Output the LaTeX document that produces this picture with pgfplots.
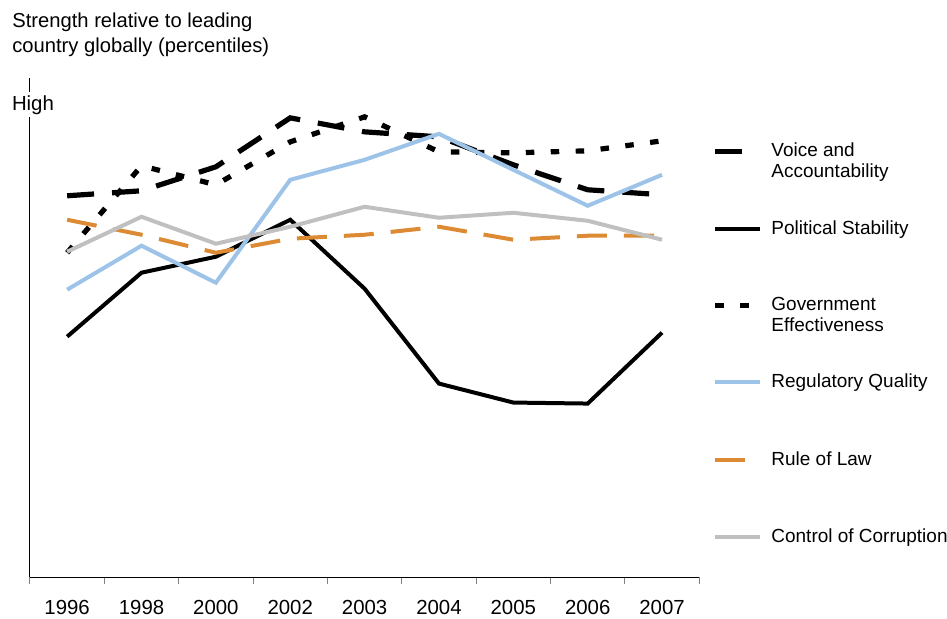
\documentclass[border=0pt]{standalone}
\usepackage{fontspec}
\setmainfont{Liberation Sans}
\usepackage{pgfplots}
\pgfplotsset{compat=1.18}
\definecolor{regblue}{HTML}{9DC3E8}
\definecolor{lawor}{HTML}{DC8A33}
\definecolor{corrgray}{HTML}{C0C0C0}
\begin{document}
\fontsize{9.5}{11.5}\selectfont
\begin{tikzpicture}
\useasboundingbox (-15pt,-20.5pt) rectangle (459pt,289pt);
\begin{axis}[
  at={(0,0)}, anchor=south west,
  scale only axis, width=335pt, height=250pt,
  xmin=-0.5, xmax=8.5, ymin=0, ymax=500,
  axis x line*=bottom, axis y line*=left,
  axis line style={line width=0.5pt},
  xtick={0,...,8},
  xticklabels={1996,1998,2000,2002,2003,2004,2005,2006,2007},
  major tick length=0pt,
  minor xtick={-0.5,0.5,...,8.5},
  minor tick length=3.5pt, tick align=outside,
  minor tick style={line width=0.5pt},
  ytick=\empty,
  xticklabel style={font=\fontsize{10.2}{12}\selectfont, yshift=-8pt},
  legend style={at={(rel axis cs:1.0195,0.876)}, anchor=north west,
    draw=none, fill=none, inner sep=0pt, row sep=16.8pt, column sep=2.8pt,
    nodes={inner sep=1.5pt, align=left}, font=\fontsize{9.5}{10.5}\selectfont},
  legend cell align=left,
  legend image code/.code={\draw[#1] (0pt,5.25pt) -- (22.5pt,5.25pt);},
]
\addplot[black, line width=2.6pt, dash pattern=on 13.5pt off 9pt] coordinates
  {(0,382) (1,387) (2,411) (3,460) (4,446) (5,441) (6,413) (7,388) (8,383)};
\addlegendentry{Voice and\\Accountability}
\addplot[black, line width=2pt] coordinates
  {(0,241) (1,305) (2,321) (3,358) (4,289) (5,194) (6,175) (7,174) (8,245)};
\addlegendentry{Political Stability\\\strut}
\addplot[black, line width=2.6pt, dash pattern=on 4.25pt off 8.25pt] coordinates
  {(0,325) (1,412) (2,393) (3,436) (4,461) (5,426) (6,425) (7,427) (8,437)};
\addlegendentry{Government\\Effectiveness}
\addplot[regblue, line width=2pt] coordinates
  {(0,288) (1,332) (2,295) (3,398) (4,418) (5,444) (6,408) (7,372) (8,403)};
\addlegendentry{Regulatory Quality\\\strut}
\addplot[lawor, line width=2pt, dash pattern=on 15pt off 8.5pt] coordinates
  {(0,358) (1,343) (2,325) (3,339) (4,343) (5,351) (6,338) (7,342) (8,342)};
\addlegendentry{Rule of Law\\\strut}
\addplot[corrgray, line width=2pt] coordinates
  {(0,326) (1,361) (2,334) (3,351) (4,371) (5,360) (6,365) (7,357) (8,338)};
\addlegendentry{Control of Corruption\\\strut}
\end{axis}
\node[fill=white, inner sep=1.5pt, font=\fontsize{10.2}{12}\selectfont] at (1.5pt,236.5pt) {High};
\node[anchor=north west, align=left, inner sep=0pt, font=\fontsize{10.1}{12.5}\selectfont]
  at (-9pt,282.5pt) {Strength relative to leading\\country globally (percentiles)};
\end{tikzpicture}
\end{document}
